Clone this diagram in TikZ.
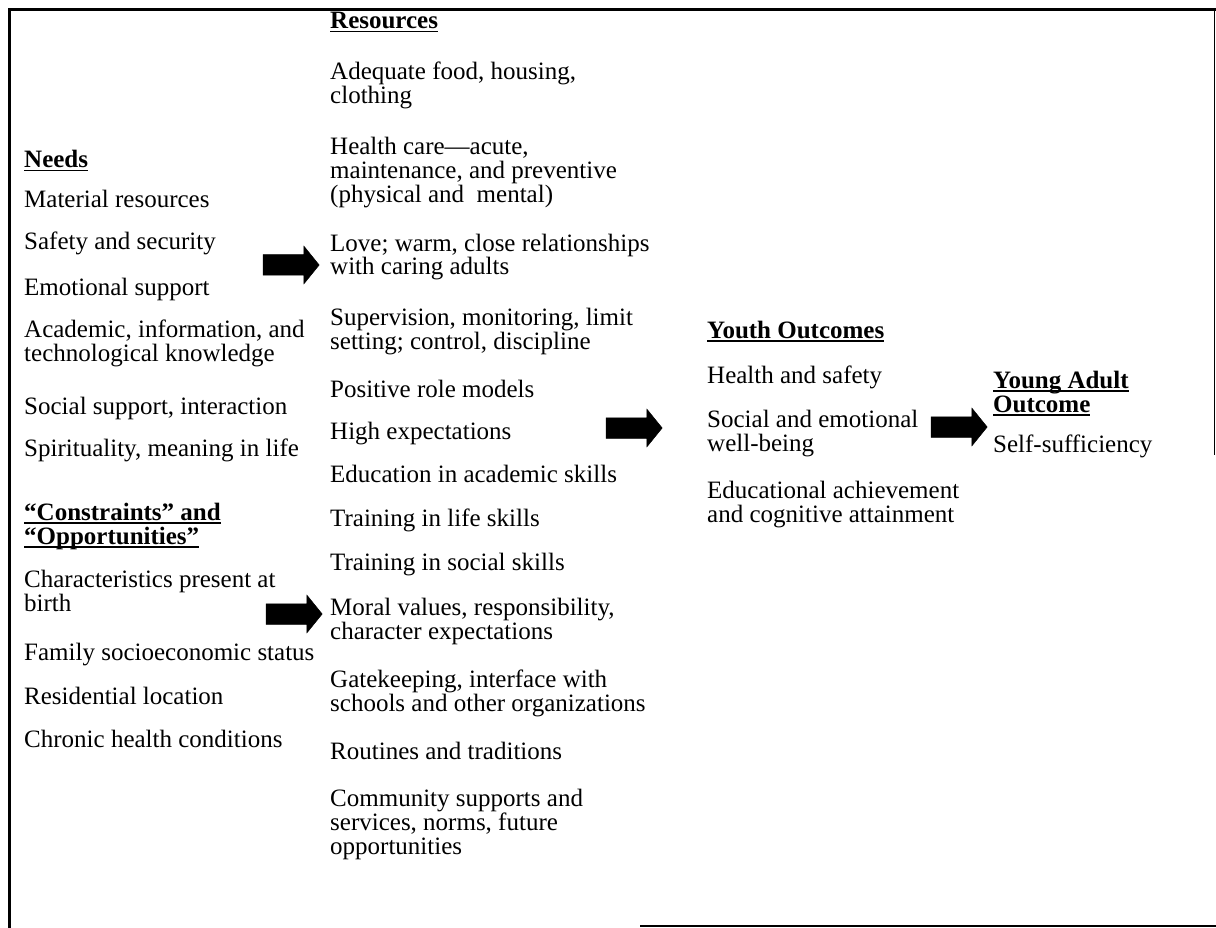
\documentclass[tikz,border=0pt]{standalone}
\usepackage{fontspec}
\setmainfont{Liberation Serif}
\usetikzlibrary{shapes.arrows}
\newcommand{\hul}[1]{\setbox0\hbox{#1}\rlap{\rule[-3.5pt]{\wd0}{1.8pt}}\box0}

\begin{document}
\begin{tikzpicture}[x=1pt,y=-1pt]
    \tikzset{
        txt/.style={anchor=base west,inner sep=0pt,align=left,font=\fontsize{25}{24}\selectfont},
        hd/.style={txt,font=\fontsize{25}{24}\selectfont\bfseries},
        % base sits on the last line, so pull wrapped texts down
        twoline/.style={yshift=-24pt},
        threeline/.style={yshift=-48pt},
        fatarrow/.style={single arrow,fill=black,draw=black,line width=0.5pt,inner xsep=0pt,inner ysep=10pt,
            minimum height=56pt,single arrow head extend=8.5pt,single arrow tip angle=102}
    }
    \useasboundingbox (0,0) rectangle (1216,928);
    % frame
    \draw[line width=3pt] (1216,10) -- (9,10) -- (9,928);
    \draw[line width=1.2pt] (1214.5,10) -- (1214.5,455);
    \draw[line width=2pt] (640,926) -- (1216,926);

    % needs and constraints
    \node[hd] (needs) at (24,168) {\hul{Needs}};
    \node[txt] (n1) at (24,208) {Material resources};
    \node[txt] (n2) at (24,250) {Safety and security};
    \node[txt] (n3) at (24,295) {Emotional support};
    \node[txt,twoline] (n4) at (24,337) {Academic, information, and\\technological knowledge};
    \node[txt] (n5) at (24,414) {Social support, interaction};
    \node[txt] (n6) at (24,456) {Spirituality, meaning in life};
    \node[hd,twoline] (cons) at (24,520) {\hul{“Constraints” and}\\\hul{“Opportunities”}};
    \node[txt,twoline] (c1) at (24,587) {Characteristics present at\\birth};
    \node[txt] (c2) at (24,660) {Family socioeconomic status};
    \node[txt] (c3) at (24,704) {Residential location};
    \node[txt] (c4) at (24,747) {Chronic health conditions};

    % resources
    \node[hd] (res) at (330,29) {\hul{Resources}};
    \node[txt,twoline] (r1) at (330,80) {Adequate food, housing,\\clothing};
    \node[txt,threeline] (r2) at (330,155) {Health care—acute,\\maintenance, and preventive\\(physical and \ mental)};
    \node[txt,twoline] (r3) at (330,251) {Love; warm, close relationships\\with caring adults};
    \node[txt,twoline] (r4) at (330,325) {Supervision, monitoring, limit\\setting; control, discipline};
    \node[txt] (r5) at (330,397) {Positive role models};
    \node[txt] (r6) at (330,439) {High expectations};
    \node[txt] (r7) at (330,482) {Education in academic skills};
    \node[txt] (r8) at (330,526) {Training in life skills};
    \node[txt] (r9) at (330,570) {Training in social skills};
    \node[txt,twoline] (r10) at (330,615) {Moral values, responsibility,\\character expectations};
    \node[txt,twoline] (r11) at (330,687) {Gatekeeping, interface with\\schools and other organizations};
    \node[txt] (r12) at (330,759) {Routines and traditions};
    \node[txt,threeline] (r13) at (330,806) {Community supports and\\services, norms, future\\opportunities};

    % outcomes
    \node[hd] (youth) at (707,338) {\hul{Youth Outcomes}};
    \node[txt] (y1) at (707,383) {Health and safety};
    \node[txt,twoline] (y2) at (707,427) {Social and emotional\\well-being};
    \node[txt,twoline] (y3) at (707,498) {Educational achievement\\and cognitive attainment};
    \node[hd,twoline] (adult) at (993,388) {\hul{Young Adult}\\\hul{Outcome}};
    \node[txt] (a1) at (993,452) {Self-sufficiency};

    % arrows
    \node[fatarrow] (ar1) at (287,265) {};
    \node[fatarrow] (ar2) at (290,614) {};
    \node[fatarrow] (ar3) at (630,428) {};
    \node[fatarrow] (ar4) at (955,427) {};
\end{tikzpicture}
\end{document}
